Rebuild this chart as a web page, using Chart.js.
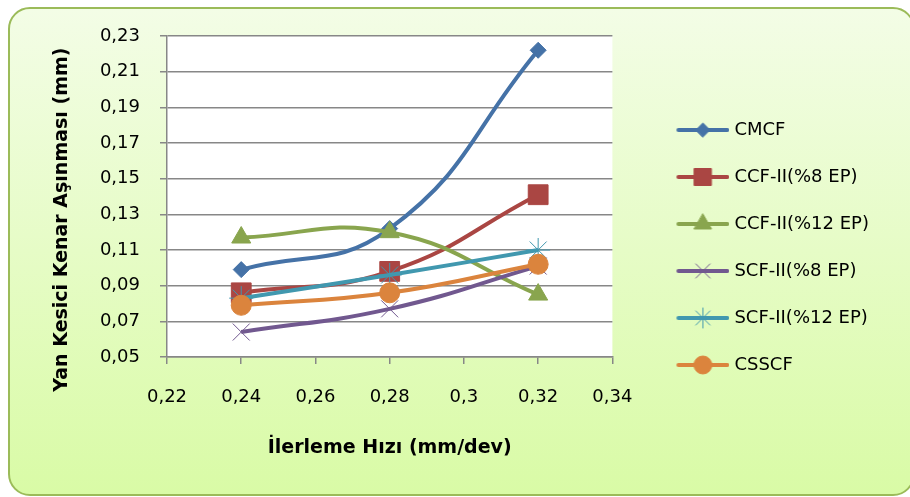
<!DOCTYPE html>
<html lang="tr">
<head>
    <meta charset="utf-8">
    <title>Yan Kesici Kenar Aşınması</title>
    <script src="https://cdn.jsdelivr.net/npm/chart.js@4.4.1/dist/chart.umd.min.js"></script>
    <style>
        html, body { margin: 0; background: #fff; overflow: hidden; width: 910px; height: 497px; }
        #frame {
            position: absolute; left: 8px; top: 7px; width: 903px; height: 485px;
            border: 2px solid #9bbb59; border-radius: 22px;
            background: linear-gradient(to bottom, #f3fde6 0%, #d9fba6 100%);
        }
        #myChart { position: absolute; left: 0; top: 0; }
    </style>
</head>
<body>
<div id="frame"></div>
<canvas id="myChart" width="910" height="497"></canvas>

<script>
    // ilerleme hizi (mm/dev)
    var feedRates = [0.24, 0.28, 0.32];

    var cmcf = [0.099, 0.122, 0.222];
    var ccf8 = [0.086, 0.098, 0.141];
    var ccf12 = [0.117, 0.120, 0.085];
    var scf8 = [0.064, 0.077, 0.101];
    var scf12 = [0.083, 0.096, 0.110];
    var csscf = [0.079, 0.086, 0.102];

    var seriesNames = ["CMCF", "CCF-II(%8 EP)", "CCF-II(%12 EP)", "SCF-II(%8 EP)", "SCF-II(%12 EP)", "CSSCF"];
    var seriesData = [cmcf, ccf8, ccf12, scf8, scf12, csscf];
    var colors = ["#4572a7", "#aa4643", "#89a54e", "#71588f", "#4198af", "#db843d"];
    var markers = ["rectRot", "rect", "triangle", "crossRot", "star", "circle"];
    var radii = [8, 14, 11, 12, 12, 10];
    var legendRadii = [7, 12, 10, 10, 10, 9];

    var xTicks = {min: 0.22, max: 0.34, step: 0.02};
    var yTicks = {min: 0.05, max: 0.23, step: 0.02};

    function comma(v, digits) {
        return (digits ? v.toFixed(digits) : String(Math.round(v * 100) / 100)).replace(".", ",");
    }

    // legend icon: line + marker, left part transparent
    function makeIcon(i) {
        var c = document.createElement("canvas");
        c.width = 92;
        c.height = 28;
        var g = c.getContext("2d");
        g.strokeStyle = colors[i];
        g.lineWidth = 4;
        g.lineCap = "round";
        g.beginPath();
        g.moveTo(41, 14);
        g.lineTo(90, 14);
        g.stroke();
        g.fillStyle = colors[i];
        g.strokeStyle = colors[i];
        g.lineWidth = 1;
        Chart.helpers.drawPoint(g, {pointStyle: markers[i], radius: legendRadii[i], borderWidth: 1, rotation: 0}, 65.5, 14);
        return c;
    }

    var datasets = [];
    for (var i = 0; i < seriesData.length; i++) {
        var pts = [];
        for (var j = 0; j < feedRates.length; j++) {
            pts.push({x: feedRates[j], y: seriesData[i][j]});
        }
        datasets.push({
            label: seriesNames[i],
            data: pts,
            borderColor: colors[i],
            backgroundColor: colors[i],
            borderWidth: 4,
            tension: 0.45,
            pointStyle: markers[i],
            pointRadius: radii[i],
            pointHoverRadius: radii[i],
            pointBackgroundColor: colors[i],
            pointBorderColor: colors[i],
            pointBorderWidth: 1,
            order: seriesData.length - i
        });
    }

    var plotBackground = {
        id: "plotBackground",
        beforeDraw: function (chart) {
            var a = chart.chartArea;
            var ctx = chart.ctx;
            ctx.save();
            ctx.fillStyle = "#ffffff";
            ctx.fillRect(a.left, a.top, a.right - a.left, a.bottom - a.top);
            ctx.restore();
        }
    };

    Chart.defaults.color = "#000";
    Chart.defaults.font.family = "'DejaVu Sans', sans-serif";

    var ctx = document.getElementById("myChart").getContext("2d");
    var myChart = new Chart(ctx, {
        type: "line",
        data: {datasets: datasets},
        plugins: [plotBackground],
        options: {
            responsive: false,
            animation: false,
            layout: {padding: {left: 50, top: 36, right: 31, bottom: 38}},
            plugins: {
                tooltip: {enabled: false},
                legend: {
                    position: "right",
                    maxWidth: 400,
                    labels: {
                        usePointStyle: true,
                        pointStyleWidth: 84,
                        padding: 29,
                        font: {size: 18},
                        color: "#000",
                        generateLabels: function (chart) {
                            return chart.data.datasets.map(function (ds, k) {
                                return {
                                    text: ds.label,
                                    pointStyle: makeIcon(k),
                                    datasetIndex: k,
                                    fillStyle: ds.backgroundColor,
                                    strokeStyle: ds.borderColor,
                                    lineWidth: 0,
                                    hidden: false,
                                    fontColor: "#000"
                                };
                            });
                        }
                    }
                }
            },
            scales: {
                x: {
                    type: "linear",
                    min: xTicks.min,
                    max: xTicks.max,
                    afterFit: function (s) { s.height = 102; },
                    ticks: {
                        stepSize: xTicks.step,
                        padding: 23,
                        maxRotation: 0,
                        font: {size: 18},
                        callback: function (v) { return comma(v); }
                    },
                    grid: {drawOnChartArea: false, drawTicks: true, tickLength: 7, color: "#878787", lineWidth: 1.5},
                    border: {color: "#878787", width: 1.5},
                    title: {
                        display: true,
                        text: "İlerleme Hızı (mm/dev)",
                        font: {size: 19, weight: "bold"},
                        padding: 0
                    }
                },
                y: {
                    min: yTicks.min,
                    max: yTicks.max,
                    afterFit: function (s) { s.width = 117; },
                    ticks: {
                        stepSize: yTicks.step,
                        padding: 20,
                        font: {size: 18},
                        callback: function (v) { return comma(v, 2); }
                    },
                    grid: {drawTicks: true, tickLength: 7, color: "#878787", lineWidth: 1.5},
                    border: {color: "#878787", width: 1.5},
                    title: {
                        display: true,
                        text: "Yan Kesici Kenar Aşınması (mm)\u00a0\u00a0\u00a0\u00a0\u00a0\u00a0\u00a0",
                        font: {size: 19, weight: "bold"},
                        padding: {top: 1, bottom: 0}
                    }
                }
            }
        }
    });
</script>
</body>
</html>
